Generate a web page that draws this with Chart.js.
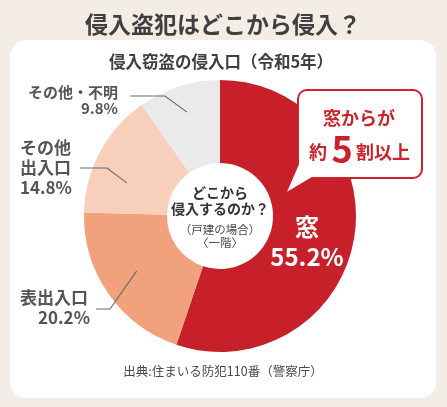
<!DOCTYPE html>
<html lang="ja">
<head>
<meta charset="utf-8">
<script src="https://cdn.jsdelivr.net/npm/chart.js@4"></script>
<style>
  html, body { margin: 0; padding: 0; background: #f3ede6; }
  #wrap { width: 447px; height: 407px; position: relative; }
</style>
</head>
<body>
<div id="wrap"><canvas id="pie" width="447" height="407"></canvas></div>
<script>
'use strict';

// ── Data ───────────────────────────────────────────────────
const categories = ['窓', '表出入口', 'その他出入口', 'その他・不明'];
const shares = [55.2, 20.2, 14.8, 9.8];
const sliceColors = ['#c8202a', '#f1a27c', '#f7cfbb', '#ebeaea'];

const FONT = "'Noto Sans CJK JP', 'Noto Sans', sans-serif";
const TEXT = '#4a4a4a';

// outside labels: text lines + leader line (t = position along the arc, r = radius)
const outsideLabels = [
    null,
    { lines: [['表出入口', 20, 298, 'left'], ['20.2%', 90, 318, 'right']], size: 17,
      leader: [[96, 309], [110, 309]], t: 0.52, r: 100 },
    { lines: [['その他', 20, 148, 'left'], ['出入口', 20, 168, 'left'], ['14.8%', 20, 188, 'left']], size: 17,
      leader: [[80, 168], [107, 168]], t: 0.34, r: 99 },
    { lines: [['その他・不明', 118, 92, 'right'], ['9.8%', 118, 108, 'right']], size: 15,
      leader: [[130, 96], [165, 96]], t: 0.5, r: 109 },
];

// ── Helpers ────────────────────────────────────────────────
function roundRect(ctx, x, y, w, h, r) {
    ctx.beginPath();
    ctx.moveTo(x + r, y);
    ctx.arcTo(x + w, y, x + w, y + h, r);
    ctx.arcTo(x + w, y + h, x, y + h, r);
    ctx.arcTo(x, y + h, x, y, r);
    ctx.arcTo(x, y, x + w, y, r);
    ctx.closePath();
}

function text(ctx, str, x, y, size, color, align, weight) {
    ctx.font = `${weight || 'bold'} ${size}px ${FONT}`;
    ctx.fillStyle = color;
    ctx.textAlign = align || 'center';
    ctx.textBaseline = 'middle';
    ctx.fillText(str, x, y);
}

// ── Plugins ────────────────────────────────────────────────
const backdrop = {
    id: 'backdrop',
    beforeDraw(chart) {
        const ctx = chart.ctx;
        ctx.save();
        ctx.fillStyle = '#f3ede6';
        ctx.fillRect(0, 0, chart.width, chart.height);
        ctx.fillStyle = '#ffffff';
        roundRect(ctx, 10, 40, 426, 358, 16);
        ctx.fill();
        text(ctx, '侵入盗犯はどこから侵入？', 223, 24, 23, '#3f3f3f');
        text(ctx, '侵入窃盗の侵入口（令和5年）', 221, 62, 16.5, '#3f3f3f');
        text(ctx, '出典:住まいる防犯110番（警察庁）', 223, 371, 12.5, TEXT, 'center', 'normal');
        ctx.restore();
    },
};

const annotations = {
    id: 'annotations',
    afterDraw(chart) {
        const ctx = chart.ctx;
        const meta = chart.getDatasetMeta(0);
        const arc0 = meta.data[0];
        const cx = arc0.x, cy = arc0.y;
        ctx.save();

        // center hole text
        text(ctx, 'どこから', cx, cy - 23, 14, '#333');
        text(ctx, '侵入するのか？', cx, cy - 7, 14, '#333');
        text(ctx, '（戸建の場合）', cx, cy + 14, 11.5, TEXT, 'center', 'normal');
        text(ctx, '〈一階〉', cx, cy + 27, 11.5, TEXT, 'center', 'normal');

        // window slice label
        text(ctx, categories[0], 307, 227, 24, '#ffffff');
        text(ctx, shares[0].toFixed(1) + '%', 307, 257, 24, '#ffffff');

        // outside labels with leader lines
        outsideLabels.forEach((lab, i) => {
            if (!lab) return;
            const a = meta.data[i].getProps(['startAngle', 'endAngle'], true);
            const ang = a.startAngle + (a.endAngle - a.startAngle) * lab.t;
            const ex = cx + Math.cos(ang) * lab.r;
            const ey = cy + Math.sin(ang) * lab.r;
            ctx.strokeStyle = '#6b6b6b';
            ctx.lineWidth = 1.2;
            ctx.beginPath();
            ctx.moveTo(lab.leader[0][0], lab.leader[0][1]);
            ctx.lineTo(lab.leader[1][0], lab.leader[1][1]);
            ctx.lineTo(ex, ey);
            ctx.stroke();
            lab.lines.forEach(([s, x, y, al]) => text(ctx, s, x, y, lab.size, '#555555', al));
        });

        // callout bubble
        const red = '#cc2229';
        ctx.fillStyle = '#ffffff';
        ctx.strokeStyle = red;
        ctx.lineWidth = 2;
        ctx.lineJoin = 'round';
        const bx = 298, by = 90, bw = 124, bh = 88, br = 9;
        ctx.beginPath();
        ctx.moveTo(bx + br, by);
        ctx.arcTo(bx + bw, by, bx + bw, by + bh, br);
        ctx.arcTo(bx + bw, by + bh, bx, by + bh, br);
        ctx.lineTo(312, by + bh);
        ctx.lineTo(285, 194);
        ctx.lineTo(bx, by + bh - 14);
        ctx.arcTo(bx, by, bx + bw, by, br);
        ctx.closePath();
        ctx.fill();
        ctx.stroke();
        text(ctx, '窓からが', 359, 118, 18, red);
        text(ctx, '約', 318, 152, 18, red);
        text(ctx, '5', 342, 149, 36, red);
        text(ctx, '割以上', 383, 152, 18, red);

        ctx.restore();
    },
};

// ── Chart ──────────────────────────────────────────────────
new Chart(document.getElementById('pie'), {
    type: 'doughnut',
    data: {
        labels: categories,
        datasets: [{
            data: shares,
            backgroundColor: sliceColors,
            borderWidth: 0,
        }],
    },
    options: {
        responsive: false,
        animation: false,
        cutout: '39%',
        layout: { padding: { left: 84, right: 91, top: 80, bottom: 55 } },
        plugins: {
            legend: { display: false },
            tooltip: { enabled: false },
        },
    },
    plugins: [backdrop, annotations],
});
</script>
</body>
</html>
